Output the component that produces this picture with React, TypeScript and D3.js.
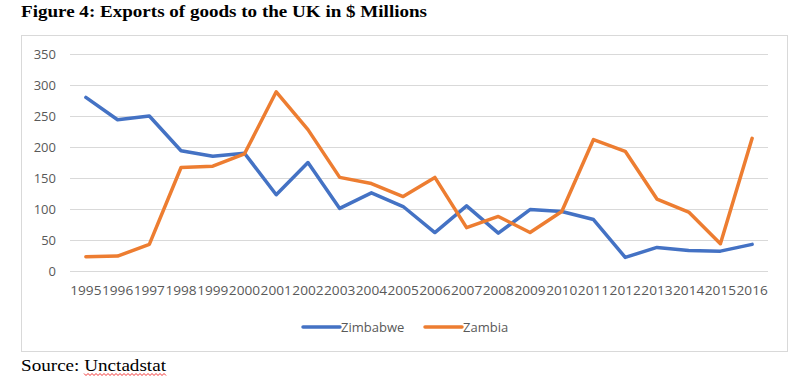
import React from "react";
import * as d3 from "d3";

const years = ["1995","1996","1997","1998","1999","2000","2001","2002","2003","2004","2005","2006","2007","2008","2009","2010","2011","2012","2013","2014","2015","2016"];
const zimbabwe = [280,244,250,194,185,190,123,175,101,126,104,62,105,61,99,96,83,22,38,33,32,43];
const zambia = [23,24,43,167,169,189,289,228,151,141,120,151,70,88,62,96,212,193,116,95,44,214];
const yTicks = [0,50,100,150,200,250,300,350];
const seriesNames = ["Zimbabwe","Zambia"];
const colors = ["#4472C4","#ED7D31"];

export default function App() {
  const W = 804, H = 378;
  const left = 70, right = 768, top = 54, bottom = 271;
  const x = d3.scaleBand<string>().domain(years).range([left, right]);
  const y = d3.scaleLinear().domain([0, 350]).range([bottom, top]);
  const line = d3.line<number>().x((_, i) => x(years[i])! + x.bandwidth() / 2).y(d => y(d));
  const series = [zimbabwe, zambia];
  const axisFont = "'Open Sans', sans-serif";
  const legendX = [303, 425];
  const wave: string[] = [];
  for (let px = 84; px <= 166; px += 2) {
    wave.push(`${px === 84 ? "M" : "L"}${px},${(px / 2) % 2 === 0 ? 373.5 : 375.5}`);
  }
  return (
    <svg width={W} height={H} style={{ position: "absolute", left: 0, top: 0, background: "#fff" }}>
      <text x={21} y={16.5} fontFamily="'Liberation Serif', serif" fontWeight="bold" fontSize={17.5} fill="#000"
        textLength={406} lengthAdjust="spacingAndGlyphs">
        Figure 4: Exports of goods to the UK in $ Millions
      </text>
      <rect x={21.5} y={35.5} width={766} height={316} fill="#fff" stroke="#d9d9d9" strokeWidth={1} />
      {yTicks.map(t => (
        <g key={t}>
          <line x1={left} x2={right} y1={Math.round(y(t)) + 0.5} y2={Math.round(y(t)) + 0.5} stroke="#d9d9d9" strokeWidth={1} />
          <text x={56} y={y(t) + 4.5} textAnchor="end" fontFamily={axisFont} fontSize={13} fill="#595959">{t}</text>
        </g>
      ))}
      {years.map(yr => (
        <text key={yr} x={x(yr)! + x.bandwidth() / 2} y={295} textAnchor="middle" fontFamily={axisFont} fontSize={13} fill="#595959"
          textLength={x.bandwidth() - 0.5} lengthAdjust="spacingAndGlyphs">{yr}</text>
      ))}
      {series.map((s, i) => (
        <path key={i} d={line(s)!} fill="none" stroke={colors[i]} strokeWidth={3.5} strokeLinejoin="round" strokeLinecap="round" />
      ))}
      {seriesNames.map((n, i) => (
        <g key={n}>
          <line x1={legendX[i]} x2={legendX[i] + 37} y1={327} y2={327} stroke={colors[i]} strokeWidth={3.5} strokeLinecap="round" />
          <text x={legendX[i] + 38} y={331.5} fontFamily={axisFont} fontSize={13} fill="#595959">{n}</text>
        </g>
      ))}
      <text x={21} y={371} fontFamily="'Liberation Serif', serif" fontSize={17} fill="#000"
        textLength={145} lengthAdjust="spacingAndGlyphs">
        Source: Unctadstat
      </text>
      <path d={wave.join("")} fill="none" stroke="#e00" strokeWidth={0.8} />
    </svg>
  );
}
